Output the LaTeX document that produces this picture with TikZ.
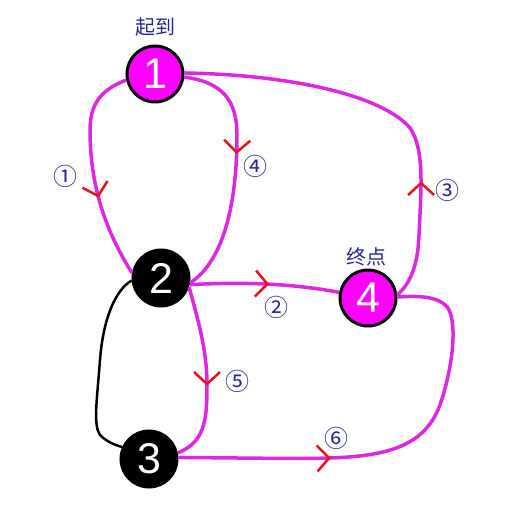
\documentclass[tikz,border=0pt]{standalone}
\usepackage{fontspec}
\setmainfont{Liberation Sans}
\newfontfamily\cjk{Noto Sans CJK SC}
\usetikzlibrary{arrows.meta,decorations.markings}
\definecolor{pathpink}{RGB}{220,40,225}
\definecolor{nodepink}{RGB}{255,0,255}
\definecolor{barbred}{RGB}{230,20,30}
\definecolor{labelblue}{RGB}{40,40,140}
\begin{document}
\begin{tikzpicture}[x=1pt,y=-1pt,
    stop/.style={circle, draw=black, line width=3pt, minimum size=56pt, inner sep=0pt,
      text=white, font=\fontsize{43}{43}\selectfont},
    startstop/.style={stop, fill=nodepink},
    plain/.style={stop, fill=black},
    tag/.style={text=labelblue, font=\cjk\fontsize{20}{20}\selectfont},
    num/.style={text=labelblue, font=\cjk\fontsize{24}{24}\selectfont},
    route/.style={draw=pathpink, line width=3.5pt},
    link/.style={draw=black, line width=2.5pt},
    barb at/.style={postaction={decorate}, decoration={markings,
      mark=at position #1 with {\arrow[barbred, line width=2.5pt]{Straight Barb[length=12pt,width=26pt]}}}}]
  \useasboundingbox (0,0) rectangle (512,505);

  \node[startstop] (n1) at (155,74) {1};
  \node[plain] (n2) at (161,278) {2};
  \node[plain] (n3) at (149,459) {3};
  \node[startstop] (n4) at (368,298) {4};

  \node[tag] (start) at (155,27) {起到};
  \node[tag] (goal) at (366,257) {终点};

  \draw[route, barb at=0.62] (n1.192) .. controls (100,90) and (90,105) .. (90,130)
      .. controls (90,185) and (105,230) .. (n2.170);
  \draw[route, barb at=0.43] (n1.354) .. controls (222,82) and (237,100) .. (237,135)
      .. controls (237,200) and (225,260) .. (n2.350);
  \draw[route, barb at=0.29] (n4.6) .. controls (412,282) and (418,262) .. (419,235)
      .. controls (421,190) and (425,150) .. (410,128)
      .. controls (385,98) and (300,75) .. (n1.2);
  \draw[route, barb at=0.53] (n2.347) .. controls (240,282) and (290,283) .. (n4.169);
  \draw[route, barb at=0.56] (n2.342) .. controls (198,320) and (207,350) .. (207,385)
      .. controls (207,420) and (205,442) .. (n3.12);
  \draw[route, barb at=0.35] (n3.3) .. controls (250,458) and (300,459) .. (330,458)
      .. controls (390,456) and (425,445) .. (440,405)
      .. controls (452,370) and (458,325) .. (448,308)
      .. controls (438,295) and (415,296) .. (n4.2);
  \draw[link] (n2.185) .. controls (115,290) and (103,320) .. (100,360)
      .. controls (97,400) and (93,425) .. (100,435)
      .. controls (107,442) and (115,445) .. (n3.156);

  \node[num] (r1) at (65,176) {①};
  \node[num] (r2) at (276,307) {②};
  \node[num] (r3) at (447,190) {③};
  \node[num] (r4) at (255,166) {④};
  \node[num] (r5) at (237,381) {⑤};
  \node[num] (r6) at (336,438) {⑥};
\end{tikzpicture}
\end{document}
